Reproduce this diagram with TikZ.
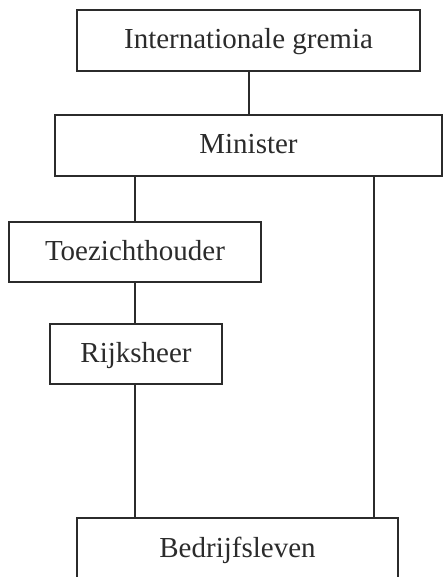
\documentclass[tikz,border=0pt]{standalone}
\usepackage{fontspec}
\setmainfont{Liberation Serif}
\definecolor{ink}{HTML}{2B2B2B}
\begin{document}
\begin{tikzpicture}[x=1pt,y=-1pt,
  box/.style={draw=ink,line width=1.6pt,rectangle,inner sep=0pt,
    font=\fontsize{29}{34}\selectfont,text=ink,text height=20pt,text depth=3pt},
  link/.style={draw=ink,line width=1.7pt}]
\useasboundingbox (0,0) rectangle (443,577);
\node[box,minimum width=343pt,minimum height=61pt] (intl) at (248.5,40.5) {Internationale gremia};
\node[box,minimum width=387pt,minimum height=61pt] (min) at (248.5,145.5) {Minister};
\node[box,minimum width=252pt,minimum height=60pt] (toe) at (135,252) {Toezichthouder};
\node[box,minimum width=172pt,minimum height=60pt] (rijk) at (136,354) {Rijksheer};
\node[box,minimum width=321pt,minimum height=61pt] (bed) at (237.5,548.5) {Bedrijfsleven};
\coordinate (mx) at (249,0);
\coordinate (lx) at (135,0);
\coordinate (rx) at (374,0);
\draw[link] (intl.south -| mx) -- (min.north -| mx);
\draw[link] (min.south -| lx) -- (toe.north -| lx);
\draw[link] (toe.south -| lx) -- (rijk.north -| lx);
\draw[link] (rijk.south -| lx) -- (bed.north -| lx);
\draw[link] (min.south -| rx) -- (bed.north -| rx);
\end{tikzpicture}
\end{document}
